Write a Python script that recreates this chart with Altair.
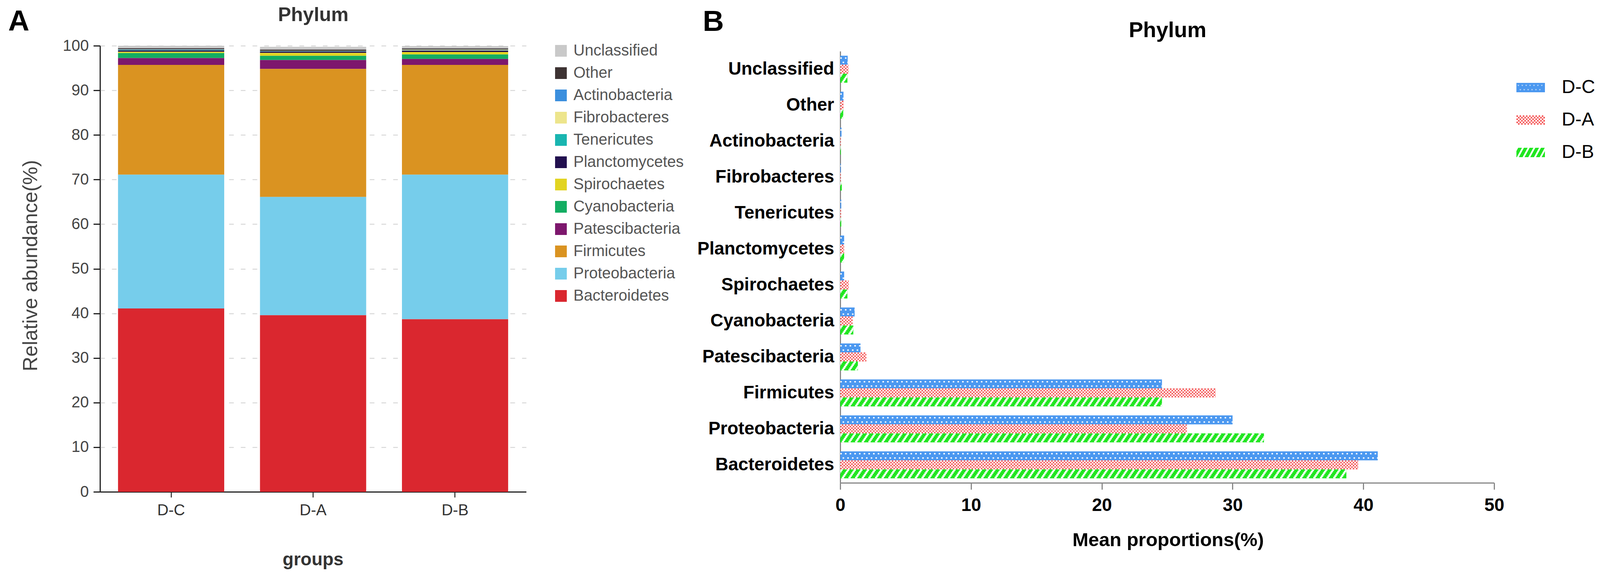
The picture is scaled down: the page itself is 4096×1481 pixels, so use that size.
import altair as alt
import pandas as pd

# ---------------- data ----------------
taxa = ["Unclassified", "Other", "Actinobacteria", "Fibrobacteres", "Tenericutes",
        "Planctomycetes", "Spirochaetes", "Cyanobacteria", "Patescibacteria",
        "Firmicutes", "Proteobacteria", "Bacteroidetes"]
taxa_colors = ["#c9c9c9", "#3d3333", "#3b8fde", "#ede58c", "#19b5b0", "#22104f",
               "#e2d422", "#13ad62", "#7d176d", "#da9321", "#76cdeb", "#da272f"]
groups = ["D-C", "D-A", "D-B"]
group_colors = ["#4b98f0", "#f45c5c", "#20e620"]

dc_values = [0.57, 0.25, 0.10, 0.05, 0.08, 0.30, 0.30, 1.10, 1.55, 24.6, 30.0, 41.1]
da_values = [0.63, 0.25, 0.05, 0.05, 0.07, 0.30, 0.65, 0.95, 2.00, 28.7, 26.5, 39.6]
db_values = [0.55, 0.23, 0.05, 0.12, 0.08, 0.30, 0.55, 1.00, 1.35, 24.6, 32.4, 38.7]

y_ticks_a = [0, 10, 20, 30, 40, 50, 60, 70, 80, 90, 100]
x_ticks_b = [0, 10, 20, 30, 40, 50]

rows = []
for g, vals in zip(groups, [dc_values, da_values, db_values]):
    for i, (t, v) in enumerate(zip(taxa, vals)):
        rows.append({"group": g, "taxon": t, "value": v,
                     "rank": len(taxa) - 1 - i, "start": 0.0})
df = pd.DataFrame(rows)

FONT = "Liberation Sans"

# ---------------- legend symbol shapes imitating the fill patterns ----------------
U = 36.5          # px per symbol unit (symbol size 73x73 box)
HW, HH = 36.5, 12.0


def clip(poly, xmin, xmax, ymin, ymax):
    def inside(p, e):
        x, y = p
        return [x >= xmin, x <= xmax, y >= ymin, y <= ymax][e]

    def inter(p, q, e):
        (x1, y1), (x2, y2) = p, q
        if e in (0, 1):
            xe = xmin if e == 0 else xmax
            t = (xe - x1) / (x2 - x1)
            return (xe, y1 + t * (y2 - y1))
        ye = ymin if e == 2 else ymax
        t = (ye - y1) / (y2 - y1)
        return (x1 + t * (x2 - x1), ye)

    out = poly
    for e in range(4):
        inp, out = out, []
        if not inp:
            break
        for i in range(len(inp)):
            cur, prev = inp[i], inp[i - 1]
            if inside(cur, e):
                if not inside(prev, e):
                    out.append(inter(prev, cur, e))
                out.append(cur)
            elif inside(prev, e):
                out.append(inter(prev, cur, e))
    return out


def area(poly):
    return sum(poly[i][0] * poly[(i + 1) % len(poly)][1] - poly[(i + 1) % len(poly)][0] * poly[i][1]
               for i in range(len(poly)))


def to_path(polys):
    parts = []
    for p in polys:
        if len(p) < 3:
            continue
        parts.append("M" + "L".join(f"{x / U:.3f},{y / U:.3f}" for x, y in p) + "Z")
    return "".join(parts)


rect = [(-HW, -HH), (HW, -HH), (HW, HH), (-HW, HH)]

# D-C: blue with small white chevrons (holes with opposite winding)
chev = [(-2.2, -1.8), (-1.0, -1.8), (0, 0.4), (1.0, -1.8), (2.2, -1.8), (0, 2.1)]
holes = []
for cy, x0 in ((-5.5, -31.5), (5.5, -26.5)):
    cx = x0
    while cx < HW - 3:
        h = [(cx + dx, cy + dy) for dx, dy in chev]
        if area(h) * area(rect) > 0:
            h = h[::-1]
        holes.append(h)
        cx += 10
path_dc = to_path([rect] + holes)

# D-A: checkerboard
cw, ch = 2 * HW / 18, 2 * HH / 6
cells = []
for r in range(6):
    for c in range(18):
        if (r + c) % 2 == 0:
            x1, y1 = -HW + c * cw, -HH + r * ch
            cells.append([(x1, y1), (x1 + cw, y1), (x1 + cw, y1 + ch), (x1, y1 + ch)])
path_da = to_path(cells)

# D-B: diagonal stripes
stripes = []
for k in range(9):
    x0 = -HW - 23 + k * 14.6
    par = [(x0, HH), (x0 + 9.6, HH), (x0 + 9.6 + 13, -HH), (x0 + 13, -HH)]
    stripes.append(clip(par, -HW, HW, -HH, HH))
path_db = to_path(stripes)

legend_shape_expr = (f"datum.value === 'D-C' ? '{path_dc}' : "
                     f"datum.value === 'D-A' ? '{path_da}' : '{path_db}'")

# ---------------- panel A ----------------
a_bars = alt.Chart(df).mark_bar().encode(
    x=alt.X("group:N", sort=groups,
            scale=alt.Scale(domain=groups, range=[0, 1091], paddingInner=0.252, paddingOuter=0.127),
            axis=alt.Axis(orient="bottom", title="groups", labelAngle=0, labelFontSize=40,
                          labelColor="#333", labelPadding=13, tickSize=14, tickWidth=2.5,
                          tickColor="#222", domainColor="#222", domainWidth=3, grid=False,
                          titleFontSize=46, titleFontWeight="bold", titleColor="#333",
                          titleX=545, titleY=187, titleAlign="center", titleBaseline="alphabetic")),
    y=alt.Y("value:Q", stack="zero",
            scale=alt.Scale(domain=[0, 100], nice=False),
            axis=alt.Axis(orient="left", values=y_ticks_a, title="Relative abundance(%)",
                          labelFontSize=40, labelColor="#444", labelPadding=12,
                          tickSize=17, tickWidth=3, tickColor="#222",
                          domainColor="#222", domainWidth=3,
                          grid=True, gridDash=[12, 18], gridColor="#cfcfcf", gridWidth=2,
                          titleFontSize=52, titleFontWeight="normal", titleColor="#444",
                          titleAngle=270, titleX=-178, titleY=562,
                          titleAlign="center", titleBaseline="middle")),
    color=alt.Color("taxon:N", sort=taxa,
                    scale=alt.Scale(domain=taxa, range=taxa_colors),
                    legend=alt.Legend(orient="none", legendX=1160, legendY=-7, title=None,
                                      symbolType="square", symbolSize=900, symbolStrokeWidth=0,
                                      labelFontSize=40, labelColor="#555", labelOffset=12,
                                      rowPadding=17, padding=0, labelLimit=800)),
    order=alt.Order("rank:Q", sort="ascending"),
)


# ---------------- panel B ----------------
def b_xscale():
    return alt.Scale(domain=[0, 50], range=[1895, 3569], nice=False, zero=True)


def b_yscale():
    return alt.Scale(domain=taxa, range=[14, 1118], paddingInner=0.25, paddingOuter=0.125)


b_x = alt.X("value:Q", scale=b_xscale(),
            axis=alt.Axis(orient="bottom", offset=-23, values=x_ticks_b, format="d",
                          tickSize=17, tickColor="#888", tickWidth=3,
                          domainColor="#888", domainWidth=3, grid=False,
                          labelFontSize=46, labelFontWeight="bold", labelColor="black",
                          labelPadding=18, labelFlush=False, labelOverlap=False,
                          title="Mean proportions(%)", titleFontSize=49, titleFontWeight="bold",
                          titleColor="black", titleX=2734, titleY=161,
                          titleAlign="center", titleBaseline="alphabetic"))
b_y = alt.Y("taxon:N", sort=taxa, scale=b_yscale(),
            axis=alt.Axis(orient="left", offset=-1895, ticks=False,
                          domainColor="#888", domainWidth=3, grid=False,
                          labelFontSize=46, labelFontWeight="bold", labelColor="black",
                          labelPadding=16, labelLimit=1000, title=None))

b_bars = alt.Chart(df).mark_bar().encode(
    x=b_x, y=b_y,
    yOffset=alt.YOffset("group:N", sort=groups, scale=alt.Scale(domain=groups)),
    color=alt.Color("group:N", sort=groups,
                    scale=alt.Scale(domain=groups, range=group_colors),
                    legend=alt.Legend(orient="none", legendX=3626, legendY=70.5, title=None,
                                      symbolType={"expr": legend_shape_expr}, symbolSize=5329,
                                      symbolStrokeWidth=0, labelFontSize=48, labelColor="black",
                                      labelOffset=43, rowPadding=22, padding=0, labelLimit=400)),
)

BAND = 69.0  # pixel bandwidth of one taxon band (for pattern row placement)


def pattern_rule(group, px_center, width, dash, offset):
    return alt.Chart(df).transform_filter(alt.datum.group == group).mark_rule(
        color="white", strokeWidth=width, strokeDash=dash, strokeDashOffset=offset
    ).encode(
        x=alt.X("start:Q", scale=b_xscale(), axis=None),
        x2="value:Q",
        y=alt.Y("taxon:N", sort=taxa, scale=b_yscale(), bandPosition=px_center / BAND, axis=None),
    )


overlays = []
# D-C: staggered small white marks
overlays.append(pattern_rule("D-C", 6.0, 3.5, [4, 8], 0))
overlays.append(pattern_rule("D-C", 17.0, 3.5, [4, 8], 6))
# D-A: checkerboard
row_h = 23.0 / 6
for j in range(6):
    overlays.append(pattern_rule("D-A", 23 + (j + 0.5) * row_h, row_h + 0.1, [4, 4], 4 * (j % 2)))
# D-B: diagonal stripes
for j in range(6):
    overlays.append(pattern_rule("D-B", 46 + (j + 0.5) * row_h, row_h + 0.1, [6, 11], 2.6 * j))


# ---------------- annotations ----------------
def label(text, x, y, size, color="black", align="left", weight="bold"):
    return alt.Chart(pd.DataFrame({"t": [text]})).mark_text(
        align=align, baseline="alphabetic", fontSize=size, fontWeight=weight,
        color=color, font=FONT
    ).encode(x=alt.value(x), y=alt.value(y), text="t:N")


lab_a = label("A", -235, -39, 75)
lab_b = label("B", 1543, -38, 75)
title_a = label("Phylum", 546, -63, 50, color="#333", align="center")
title_b = label("Phylum", 2733, -22, 55, color="black", align="center")

chart = alt.layer(a_bars, b_bars, *overlays, lab_a, lab_b, title_a, title_b).resolve_scale(
    x="independent", y="independent", color="independent"
).properties(
    width=3569, height=1141,
    autosize=alt.AutoSizeParams(type="none"),
    padding={"left": 248, "top": 109, "right": 263, "bottom": 215},
).configure(font=FONT).configure_view(stroke=None)

chart.save("out.html", embed_options={"renderer": "svg", "actions": False})
